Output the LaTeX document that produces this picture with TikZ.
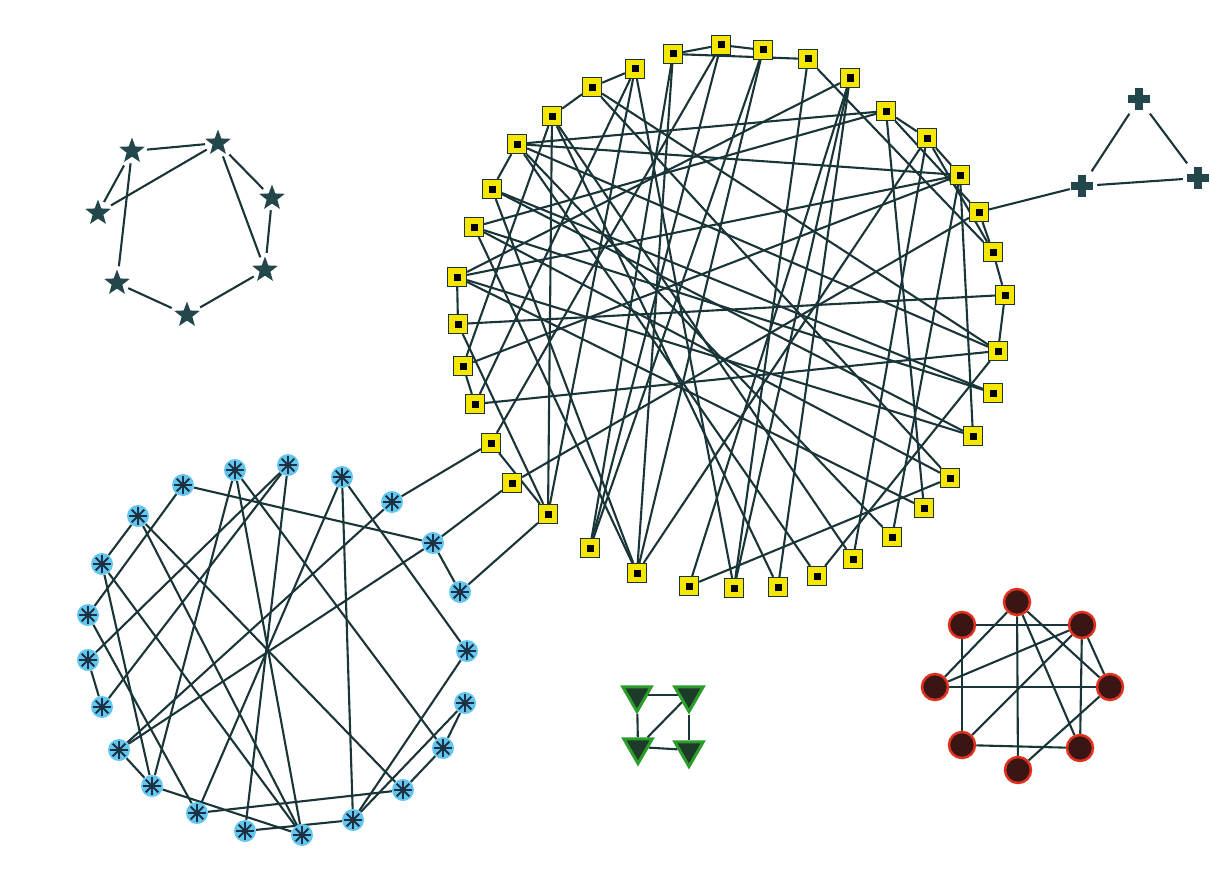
\documentclass[tikz,border=0pt]{standalone}
\usetikzlibrary{shapes.geometric,backgrounds}
\definecolor{lc}{HTML}{1A3538}
\definecolor{yel}{HTML}{F7E600}
\definecolor{blc}{HTML}{62C6EE}
\definecolor{astc}{HTML}{1B2F45}
\definecolor{stc}{HTML}{23474A}
\definecolor{grn}{HTML}{2A9D2A}
\definecolor{grf}{HTML}{1E3A28}
\definecolor{rdb}{HTML}{E0301E}
\definecolor{rdf}{HTML}{3B1414}
\tikzset{
 edge/.style={draw=lc, line width=2.1pt},
 sedge/.style={draw=lc, line width=2.1pt, shorten <=6pt, shorten >=6pt},
 ysq/.style={draw=lc, line width=1.2pt, fill=yel, minimum size=19pt, inner sep=0pt,
   path picture={\fill[black] ([xshift=-3.5pt,yshift=-3.5pt]path picture bounding box.center) rectangle ([xshift=3.5pt,yshift=3.5pt]path picture bounding box.center);}},
 stnode/.style={star, star points=5, star point ratio=2.4, minimum size=27pt, fill=stc, inner sep=0pt},
 bast/.style={circle, minimum size=22pt, fill=blc, inner sep=0pt,
   path picture={\foreach \a in {0,45,90,135}{\draw[astc, line width=2pt] ([shift={(\a:9pt)}]path picture bounding box.center) -- ([shift={(\a+180:9pt)}]path picture bounding box.center);}}},
 crs/.style={minimum size=24pt, inner sep=0pt,
   path picture={\fill[stc] ([xshift=-11pt,yshift=-4pt]path picture bounding box.center) rectangle ([xshift=11pt,yshift=4pt]path picture bounding box.center);
                 \fill[stc] ([xshift=-4pt,yshift=-11pt]path picture bounding box.center) rectangle ([xshift=4pt,yshift=11pt]path picture bounding box.center);}},
 gtri/.style={regular polygon, regular polygon sides=3, shape border rotate=180, minimum size=33pt, fill=grf, draw=grn, line width=3pt, inner sep=0pt},
 rcir/.style={circle, minimum size=26pt, fill=rdf, draw=rdb, line width=2.5pt, inner sep=0pt}
}
\begin{document}
\begin{tikzpicture}[x=1pt,y=-1pt]
\useasboundingbox (0,0) rectangle (1210,891);
% stars
\node[stnode] (s1) at (132,151) {};
\node[stnode] (s2) at (218,143) {};
\node[stnode] (s3) at (98,213) {};
\node[stnode] (s4) at (272,198) {};
\node[stnode] (s5) at (117,283) {};
\node[stnode] (s6) at (265,270) {};
\node[stnode] (s7) at (187,315) {};
% crosses
\node[crs] (c1) at (1082,186) {};
\node[crs] (c2) at (1139,99) {};
\node[crs] (c3) at (1198,178) {};
% yellow squares
\foreach \i/\x/\y in {1/721/45,2/763/50,3/808/59,4/850/78,5/886/111,6/927/138,7/960/175,8/979/212,9/993/252,10/1005/295,11/998/351,12/993/393,13/973/436,14/950/478,15/924/508,16/892/537,17/853/559,18/817/576,19/778/587,20/734/588,21/689/586,22/637/573,23/590/548,24/548/514,25/512/483,26/491/443,27/475/404,28/463/366,29/458/324,30/457/277,31/474/227,32/492/189,33/517/144,34/552/116,35/592/87,36/635/69,37/673/54}{\node[ysq] (y\i) at (\x,\y) {};}
% blue asterisks
\foreach \i/\x/\y in {1/183/485,2/235/470,3/288/465,4/342/477,5/392/502,6/433/543,7/460/592,8/467/651,9/465/703,10/443/748,11/403/790,12/353/820,13/302/835,14/245/831,15/197/813,16/152/786,17/119/750,18/102/707,19/88/660,20/88/615,21/102/564,22/138/516}{\node[bast] (b\i) at (\x,\y) {};}
% green triangles
\node[gtri] (g1) at (637,695) {};
\node[gtri] (g2) at (689,695) {};
\node[gtri] (g3) at (638,747) {};
\node[gtri] (g4) at (689,750) {};
% red circles
\node[rcir] (r1) at (1017,602) {};
\node[rcir] (r2) at (962,625) {};
\node[rcir] (r3) at (1082,625) {};
\node[rcir] (r4) at (935,687) {};
\node[rcir] (r5) at (1110,687) {};
\node[rcir] (r6) at (962,745) {};
\node[rcir] (r7) at (1080,748) {};
\node[rcir] (r8) at (1018,770) {};
\begin{pgfonlayer}{background}
\foreach \a/\b in {1/2,1/3,1/5,2/3,2/4,2/6,4/6,6/7,5/7}{\draw[sedge] (s\a) -- (s\b);}
\foreach \a/\b in {1/2,2/3,1/3}{\draw[edge, shorten <=3pt, shorten >=3pt] (c\a) -- (c\b);}
\draw[edge] (y8) -- (c1);
\foreach \a/\b in {37/1,1/2,36/35,35/34,33/32,30/29,28/27,5/6,6/7,8/9,9/10,10/11,37/3,33/5,33/7,33/11,33/16,33/18,34/28,34/24,34/19,34/17,35/11,35/14,36/24,36/20,37/23,37/22,1/23,1/26,2/23,2/22,3/20,3/9,4/30,4/20,4/19,4/21,5/31,5/15,5/8,6/22,6/17,6/9,7/30,7/28,7/16,7/13,8/25,10/29,11/18,11/27,12/31,12/32,13/32,14/31,14/21,15/30,22/31,22/32,24/29,24/26,27/36,30/13}{\draw[edge] (y\a) -- (y\b);}
\foreach \a/\b in {1/6,1/20,22/21,22/11,22/13,21/16,21/13,20/15,19/18,2/16,2/10,2/13,3/19,3/18,3/14,4/12,4/8,4/15,5/17,6/17,6/7,8/12,9/12,9/10,10/11,11/15,14/12,17/16,16/13}{\draw[edge] (b\a) -- (b\b);}
\draw[edge] (b5) -- (y26);
\draw[edge] (b6) -- (y25);
\draw[edge] (b7) -- (y24);
\foreach \a/\b in {1/2,1/3,2/4,3/4,3/2}{\draw[edge] (g\a) -- (g\b);}
\foreach \a/\b in {2/3,2/6,1/4,1/8,1/5,1/7,3/4,3/6,3/7,3/5,4/5,6/7,5/8}{\draw[edge] (r\a) -- (r\b);}
\end{pgfonlayer}
\end{tikzpicture}
\end{document}
